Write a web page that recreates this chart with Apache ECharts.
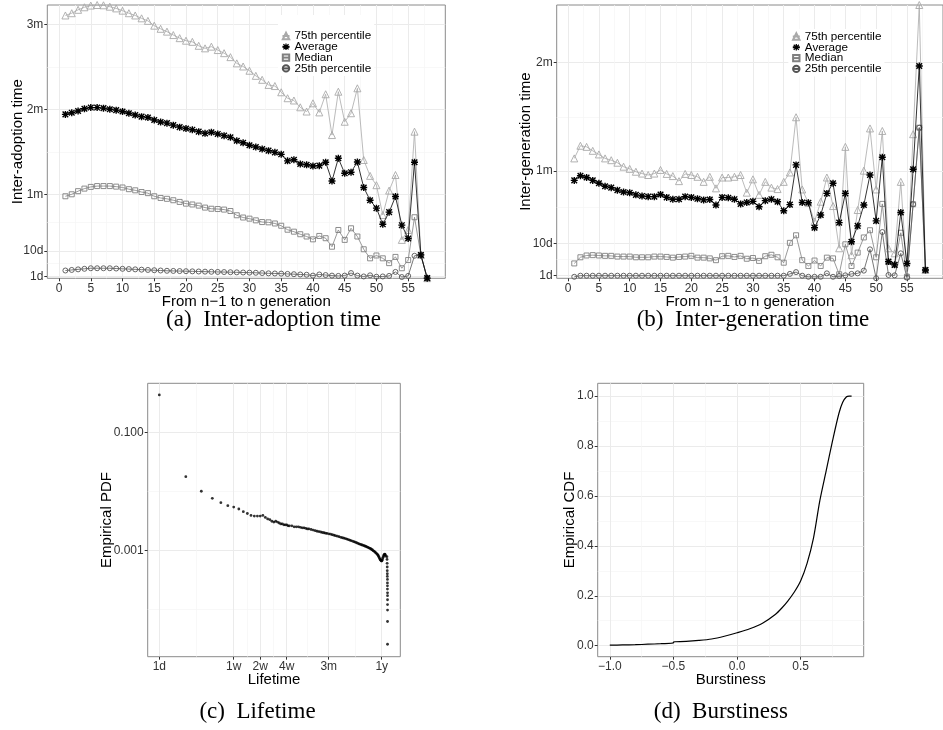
<!DOCTYPE html>
<html><head><meta charset="utf-8">
<script src="https://cdn.jsdelivr.net/npm/echarts@6/dist/echarts.min.js"></script>
<style>html,body{margin:0;padding:0;background:#fff}#c{width:943px;height:730px}</style>
</head><body><div id="c"></div>
<script>
// ---------- data ----------
const generations = [1,2,3,4,5,6,7,8,9,10,11,12,13,14,15,16,17,18,19,20,21,22,23,24,25,26,27,28,29,30,31,32,33,34,35,36,37,38,39,40,41,42,43,44,45,46,47,48,49,50,51,52,53,54,55,56,57,58];
// (a) inter-adoption time, in days
const adoptP75 = [93.1,93.9,95.1,96.0,96.6,96.8,96.7,96.2,95.6,94.8,93.9,93.1,92.1,91.2,89.5,88.4,87.4,86.2,85.1,84.2,83.8,82.4,81.5,82.1,80.9,79.8,78.4,76.2,75.1,73.6,71.8,70.4,68.6,68.2,66.0,63.9,63.1,60.7,59.2,62.1,58.9,65.3,50.9,66.2,55.6,58.6,67.4,42.1,36.5,33.2,22.7,31.3,36.8,13.9,17.4,52.1,8.6,0.4];
const adoptAvg = [58.2,58.8,59.4,60.2,60.6,60.6,60.4,60.0,59.7,59.2,58.6,58.0,57.4,57.1,56.2,55.5,55.1,54.4,53.7,53.2,52.8,52.1,51.5,51.9,51.3,50.7,50.1,48.9,48.2,47.3,46.7,46.0,45.4,44.8,44.1,41.8,42.2,40.7,40.4,40.0,40.1,41.3,34.7,42.7,37.4,37.8,41.4,32.4,27.9,25.1,19.4,23.7,29.2,19.1,14.4,41.3,8.6,0.4];
const adoptMed = [29.3,30.0,31.1,32.0,32.6,32.9,32.9,32.9,32.7,32.4,31.8,31.4,30.8,30.4,29.3,28.7,28.4,27.9,27.3,26.7,26.4,26.0,25.3,24.9,24.8,24.6,24.1,22.6,21.8,21.4,20.8,20.2,20.1,19.7,18.9,17.5,16.8,15.9,15.1,14.1,15.3,14.5,11.5,17.4,13.9,18.0,15.1,10.6,7.4,8.4,7.4,5.7,7.9,3.9,6.8,21.9,8.6,0.4];
const adoptP25 = [3.1,3.3,3.5,3.7,3.9,3.9,3.9,3.9,3.8,3.7,3.6,3.5,3.4,3.3,3.2,3.1,3.0,2.95,2.9,2.85,2.8,2.75,2.7,2.65,2.6,2.55,2.5,2.45,2.4,2.35,2.3,2.2,2.1,2.05,2.0,1.9,1.8,1.7,1.6,1.3,1.7,1.5,1.3,1.2,1.3,2.2,1.3,1.0,1.4,0.9,1.0,1.2,2.6,0.8,1.2,8.3,8.6,0.4];
// (b) inter-generation time, in days
const genP75 = [33.5,37.0,36.7,35.6,34.6,33.5,33.0,32.3,31.2,30.6,29.8,29.3,28.9,29.3,30.3,29.2,28.6,27.2,29.2,28.9,28.4,27.0,28.4,25.2,28.2,28.2,28.4,28.9,24.0,27.7,23.4,27.0,25.4,25.0,27.0,29.6,44.9,24.9,21.2,16.0,21.5,28.2,20.3,8.6,36.7,6.7,19.2,30.1,41.8,24.9,41.1,8.6,7.2,27.0,1.2,40.2,76.0,2.6];
const genAvg = [27.4,28.7,28.2,27.4,26.6,25.8,25.4,24.7,24.2,24.0,23.4,23.1,22.9,22.9,23.5,22.7,22.2,22.2,22.9,22.7,22.3,22.0,22.1,20.6,22.7,22.6,22.2,20.9,21.3,21.6,20.1,21.8,22.2,21.5,19.0,20.7,31.7,21.3,21.2,14.3,17.8,23.8,26.6,15.7,23.8,10.4,14.8,20.6,28.9,16.2,33.8,4.9,4.0,18.5,4.4,30.5,59.1,2.6];
const genMed = [4.4,6.1,6.6,6.7,6.6,6.5,6.5,6.3,6.3,6.3,6.1,6.1,6.1,6.3,6.3,6.2,6.0,6.2,6.3,6.5,6.0,6.0,5.8,5.3,6.4,6.5,6.2,6.5,5.7,5.9,5.1,6.4,6.8,6.1,4.6,10.1,12.2,5.3,3.7,5.2,3.7,6.0,5.8,1.4,9.7,3.7,7.4,11.6,13.6,6.1,20.9,4.8,4.0,12.9,0.7,20.8,42.0,2.6];
const genP25 = [0.7,1.0,1.0,1.0,1.0,1.0,1.0,1.0,1.0,1.0,1.0,1.0,1.0,1.0,1.0,1.0,1.0,1.0,1.0,1.0,1.0,1.0,1.0,1.0,1.0,1.0,1.0,1.0,1.0,1.0,1.0,1.0,1.0,1.0,1.0,1.5,2.0,1.0,0.7,0.7,0.7,1.65,0.7,0.9,1.1,1.5,1.65,2.4,8.3,0.3,13.1,1.2,1.1,7.2,0.45,20.8,42.0,2.6];
const seriesNames = ['75th percentile','Average','Median','25th percentile'];
// (c) lifetime PDF
const lifeDays = [1,2,3,4,5,6,7,8,9,10,11,12,13,14,15,16,17,18,19,20,21,22,23,24,25,26,27,28,29,30,32,34,36,38,40,42,44,46,48,50,53,56,59,62,65,68,71,74,77,80,84,88,92,96,100,105,110,115,120,125,130,135,140,145,150,156,162,168,174,180,186,192,198,204,210,216,222,228,234,240,246,252,258,264,270,276,282,288,294,300,304,308,312,316,320,324,328,332,336,340,344,348,352,356,360,364,368,372,385,386,387,388,388,389,389,390,390,390,390,391,391,391,391,391,391,391];
const lifePdf = [0.43,0.0177,0.0100,0.0076,0.0064,0.0057,0.0054,0.0050,0.0045,0.0042,0.0039,0.0038,0.0038,0.0038,0.0039,0.0036,0.0034,0.0033,0.0031,0.0030,0.0031,0.0030,0.0029,0.0028,0.0028,0.0027,0.0027,0.0027,0.0026,0.0026,0.0026,0.0025,0.0025,0.0025,0.00245,0.0024,0.0024,0.00235,0.0023,0.0023,0.00225,0.0022,0.00215,0.0021,0.00207,0.00204,0.0020,0.00198,0.00195,0.00193,0.0019,0.00187,0.00184,0.0018,0.00177,0.00173,0.0017,0.00166,0.00163,0.0016,0.00158,0.00155,0.00152,0.00149,0.00146,0.00143,0.0014,0.00137,0.00134,0.00131,0.00128,0.00126,0.00124,0.00122,0.0012,0.00118,0.00116,0.00114,0.00112,0.0011,0.00108,0.00106,0.00103,0.00101,0.00098,0.00096,0.00093,0.0009,0.00088,0.00085,0.00083,0.0008,0.00077,0.00074,0.00071,0.00069,0.00068,0.00066,0.00066,0.00068,0.00072,0.00076,0.0008,0.00083,0.00085,0.00086,0.00084,0.0008,0.00078,0.0007,0.0006,0.00052,0.00045,0.0004,0.00036,0.00032,0.00028,0.00025,0.00022,0.00019,0.00017,0.000145,0.00012,0.000097,0.000062,0.0000255];
// (d) burstiness CDF
const burstX = [-1.0,-0.9,-0.8,-0.7,-0.6,-0.5,-0.5,-0.4,-0.3,-0.2,-0.1,0.0,0.1,0.2,0.3,0.35,0.4,0.45,0.5,0.55,0.6,0.65,0.7,0.75,0.8,0.83,0.86,0.88,0.9];
const burstCdf = [0.002,0.003,0.004,0.006,0.008,0.011,0.015,0.017,0.021,0.027,0.038,0.052,0.068,0.09,0.125,0.15,0.18,0.215,0.26,0.33,0.43,0.58,0.70,0.82,0.93,0.975,0.997,1.0,1.0];
// tick labels
const genTicks = [0,5,10,15,20,25,30,35,40,45,50,55];
const genMinor = [2.5,7.5,12.5,17.5,22.5,27.5,32.5,37.5,42.5,47.5,52.5,57.5];
const timeTicksA = [1,10,30,60,90], timeLabelsA = ['1d','10d','1m','2m','3m'];
const timeMinorA = [5.5,20,45,75];
const timeTicksB = [1,10,30,60], timeLabelsB = ['1d','10d','1m','2m'];
const timeMinorB = [5.5,20,45];
const lifeTicks = [1,7,14,28,84,336], lifeLabels = ['1d','1w','2w','4w','3m','1y'];
const lifeMinor = [2.646,9.9,19.8,48.5,168];
const pdfTicks = [0.1,0.001], pdfLabels = ['0.100','0.001'];
const pdfMinor = [0.01,0.0001];
const burstTicks = [-1,-0.5,0,0.5], burstMinor = [-0.75,-0.25,0.25,0.75];
const cdfTicks = [0,0.2,0.4,0.6,0.8,1.0], cdfMinor = [0.1,0.3,0.5,0.7,0.9];

// ---------- styling ----------
const FONT = 'Liberation Sans, Arial, Helvetica, sans-serif';
const SERIF = 'Liberation Serif, Times New Roman, serif';
const GMAJ = '#EBEBEB', GMIN = '#F5F5F5', BORDER = '#8a8a8a', TICK = '#333';
const STAR = 'path://M4 0L6 0L6 10L4 10Z M0 4L10 4L10 6L0 6Z M0.3 1.7L1.7 0.3L9.7 8.3L8.3 9.7Z M8.3 0.3L9.7 1.7L1.7 9.7L0.3 8.3Z';
const L10 = Math.log10;

function lookup(ticks, labels, v, tr) {
  for (let i = 0; i < ticks.length; i++) if (Math.abs(tr(ticks[i]) - v) < 1e-6) return labels[i];
  return '';
}
function majorAxis(grid, min, max, ticks, fmt, name, nameGap, isY) {
  return {
    type: 'value', gridIndex: grid, min: min, max: max, position: isY ? 'left' : 'bottom',
    axisLine: {show: false, onZero: false},
    axisTick: {show: true, customValues: ticks, length: 3, lineStyle: {color: TICK, width: 1}},
    axisLabel: {show: true, customValues: ticks, formatter: fmt, fontFamily: FONT, fontSize: 12, color: '#333', margin: 4},
    splitLine: {show: true, lineStyle: {color: GMAJ, width: 1}},
    name: name, nameLocation: 'middle', nameGap: nameGap, nameRotate: isY ? 90 : 0, nameMoveOverlap: false,
    nameTextStyle: {fontFamily: FONT, fontSize: 15, color: '#000'}
  };
}
function minorAxis(grid, min, max, ticks, isY) {
  return {
    type: 'value', gridIndex: grid, min: min, max: max, position: isY ? 'left' : 'bottom',
    axisLine: {show: false, onZero: false},
    axisTick: {show: false, customValues: ticks},
    axisLabel: {show: false, customValues: ticks},
    splitLine: {show: true, lineStyle: {color: GMIN, width: 0.7}}
  };
}
function pairs(xs, ys) { return xs.map((x, i) => [x, ys[i]]); }

const styles = [
  {symbol: 'triangle', size: 7, color: '#a9a9a9', fill: 'rgba(255,255,255,0)'},
  {symbol: STAR, size: 7, color: '#000000', fill: '#000000'},
  {symbol: 'rect', size: 5, color: '#808080', fill: 'rgba(255,255,255,0)'},
  {symbol: 'circle', size: 5, color: '#555555', fill: 'rgba(255,255,255,0)'}
];
function lineSeries(arrs, xi, yi) {
  return arrs.map((arr, k) => ({
    type: 'line', name: seriesNames[k], xAxisIndex: xi, yAxisIndex: yi,
    data: pairs(generations, arr),
    symbol: styles[k].symbol, symbolSize: styles[k].size, showSymbol: true,
    itemStyle: {color: styles[k].fill, borderColor: styles[k].color, borderWidth: k === 1 ? 0 : 0.9},
    lineStyle: {color: styles[k].color, width: 0.8},
    z: k === 1 ? 5 : 3
  }));
}

const aMin = 0.35, aMax = 96.8, bMin = 0.28, bMax = 76;
const gMin = -1.85, gMax = 60.85;
const cxMin = 0.738, cxMax = 546, cyMin = 1.57e-5, cyMax = 0.676;
const dxMin = -1.095, dxMax = 0.995, dyMin = -0.044, dyMax = 1.051;
const fmtNum = v => (v < 0 ? '\u2212' : '') + Math.abs(v).toFixed(1);
const legendText = {fontFamily: FONT, fontSize: 11.7, lineHeight: 10.8, color: '#000'};

const option = {
  animation: false,
  grid: [
    {left: 47.3, top: 5, width: 398, height: 273.3, show: true, borderColor: BORDER, borderWidth: 1},
    {left: 556.7, top: 5, width: 398, height: 273.3, show: true, borderColor: BORDER, borderWidth: 1},
    {left: 147.7, top: 383.3, width: 252.6, height: 273.4, show: true, borderColor: BORDER, borderWidth: 1},
    {left: 597.7, top: 383.3, width: 266, height: 273.4, show: true, borderColor: BORDER, borderWidth: 1}
  ],
  xAxis: [
    majorAxis(0, gMin, gMax, genTicks, v => String(v), 'From n\u22121 to n generation', 16, false),
    minorAxis(0, gMin, gMax, genMinor, false),
    majorAxis(1, gMin, gMax, genTicks, v => String(v), 'From n\u22121 to n generation', 16, false),
    minorAxis(1, gMin, gMax, genMinor, false),
    {type: 'log', gridIndex: 2, min: cxMin, max: cxMax, show: false, position: 'bottom', axisLine: {onZero: false}},
    majorAxis(2, L10(cxMin), L10(cxMax), lifeTicks.map(L10), v => lookup(lifeTicks, lifeLabels, v, L10), 'Lifetime', 16, false),
    minorAxis(2, L10(cxMin), L10(cxMax), lifeMinor.map(L10), false),
    majorAxis(3, dxMin, dxMax, burstTicks, fmtNum, 'Burstiness', 16, false),
    minorAxis(3, dxMin, dxMax, burstMinor, false)
  ],
  yAxis: [
    majorAxis(0, aMin, aMax, timeTicksA, v => lookup(timeTicksA, timeLabelsA, v, x => x), 'Inter-adoption time', 22, true),
    minorAxis(0, aMin, aMax, timeMinorA, true),
    majorAxis(1, bMin, bMax, timeTicksB, v => lookup(timeTicksB, timeLabelsB, v, x => x), 'Inter-generation time', 23.7, true),
    minorAxis(1, bMin, bMax, timeMinorB, true),
    {type: 'log', gridIndex: 2, min: cyMin, max: cyMax, show: false, position: 'left', axisLine: {onZero: false}},
    majorAxis(2, L10(cyMin), L10(cyMax), pdfTicks.map(L10), v => lookup(pdfTicks, pdfLabels, v, L10), 'Empirical PDF', 33, true),
    minorAxis(2, L10(cyMin), L10(cyMax), pdfMinor.map(L10), true),
    majorAxis(3, dyMin, dyMax, cdfTicks, v => v.toFixed(1), 'Empirical CDF', 20, true),
    minorAxis(3, dyMin, dyMax, cdfMinor, true)
  ],
  legend: [
    {left: 278, top: 15, orient: 'vertical', padding: [15, 3, 1.5, 3.5], backgroundColor: '#fff',
     itemWidth: 7, itemHeight: 8, itemGap: -1.2, selectedMode: false, data: seriesNames, textStyle: legendText},
    {left: 788.3, top: 29, orient: 'vertical', padding: [1.5, 3, 1.5, 3.5], backgroundColor: '#fff',
     itemWidth: 7, itemHeight: 8, itemGap: -1.2, selectedMode: false, data: seriesNames, textStyle: legendText}
  ],
  series: [].concat(
    lineSeries([adoptP75, adoptAvg, adoptMed, adoptP25], 0, 0),
    lineSeries([genP75, genAvg, genMed, genP25], 2, 2),
    [{type: 'scatter', xAxisIndex: 4, yAxisIndex: 4, data: pairs(lifeDays, lifePdf),
      symbol: 'circle', symbolSize: 2.8, itemStyle: {color: '#000'}},
     {type: 'line', xAxisIndex: 7, yAxisIndex: 7, data: pairs(burstX, burstCdf),
      showSymbol: false, smooth: 0.3, lineStyle: {color: '#000', width: 1.2}}]
  ),
  graphic: [
    {type: 'text', x: 273.5, y: 320, style: {text: '(a)  Inter-adoption time', font: '23px ' + SERIF, textAlign: 'center', textVerticalAlign: 'middle', fill: '#000'}},
    {type: 'text', x: 753, y: 320, style: {text: '(b)  Inter-generation time', font: '23px ' + SERIF, textAlign: 'center', textVerticalAlign: 'middle', fill: '#000'}},
    {type: 'text', x: 257.5, y: 711.7, style: {text: '(c)  Lifetime', font: '23px ' + SERIF, textAlign: 'center', textVerticalAlign: 'middle', fill: '#000'}},
    {type: 'text', x: 720.8, y: 711.7, style: {text: '(d)  Burstiness', font: '23px ' + SERIF, textAlign: 'center', textVerticalAlign: 'middle', fill: '#000'}}
  ]
};
const chart = echarts.init(document.getElementById('c'), null, {renderer: 'canvas'});
chart.setOption(option);
</script>
</body></html>
